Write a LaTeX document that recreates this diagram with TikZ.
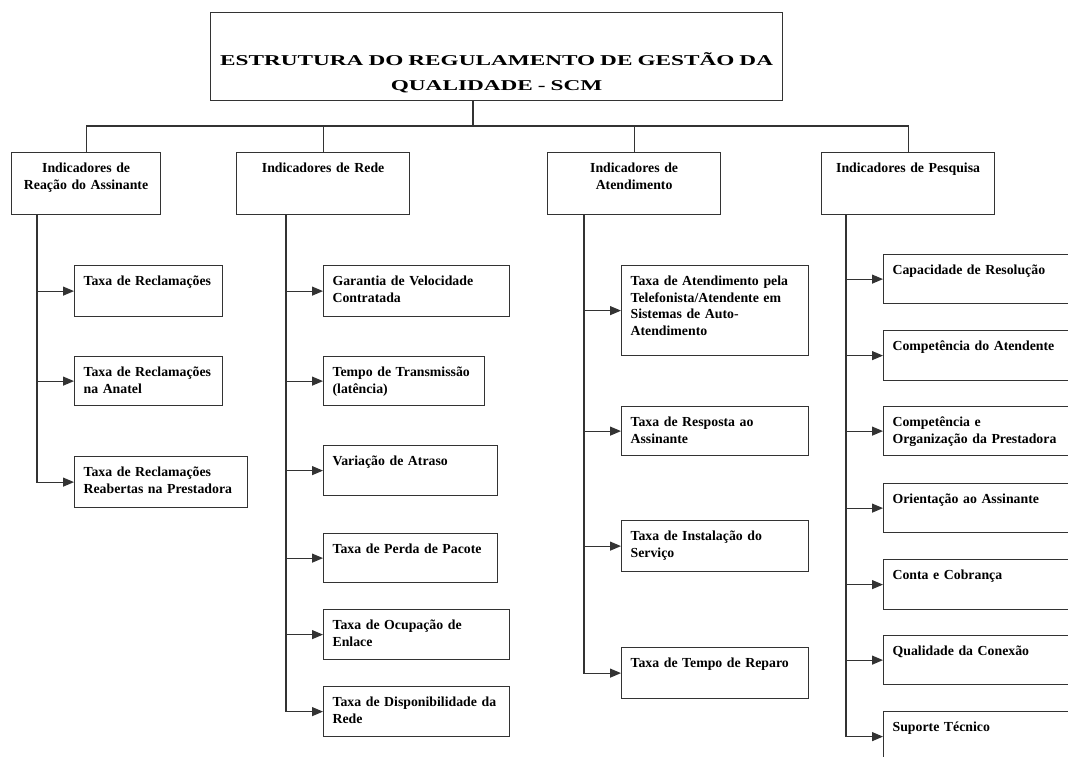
\documentclass[tikz,border=0pt]{standalone}
\usepackage{fontspec}
\setmainfont{Liberation Serif}
\newfontfamily\titlefont[FakeStretch=1.55]{Liberation Serif}
\usetikzlibrary{arrows.meta}

\begin{document}
\begin{tikzpicture}[
  x=1pt, y=-1pt,
  >={Triangle[length=11pt, width=9pt]},
  link/.style={line width=1.2pt, draw=black!80},
  conn/.style={->, line width=1.2pt, draw=black!80},
  titleBox/.style={
    draw=black!80, line width=1.2pt, anchor=north west, inner sep=0pt,
    align=center, text width=572pt, text height=53pt, text depth=35pt,
    font=\titlefont\bfseries\fontsize{15}{25}\selectfont
  },
  catBox/.style 2 args={
    draw=black!80, line width=1.2pt, anchor=north west, inner sep=0pt,
    align=center, text width=#1pt, text height=20pt, text depth=#2pt-20pt,
    font=\bfseries\fontsize{13.8}{16.8}\selectfont
  },
  leafBox/.style 2 args={
    draw=black!80, line width=1.2pt, anchor=north west, inner sep=0pt,
    align=left, text width=#1pt, text height=20pt, text depth=#2pt-20pt,
    execute at begin node={\leftskip=9pt},
    font=\bfseries\fontsize{13.8}{16.5}\selectfont
  }
]
\clip (0,0) rectangle (1068,756);

% --- Titulo ---
\node[titleBox] (title) at (210,12)
  {ESTRUTURA DO REGULAMENTO DE GESTÃO DA\\QUALIDADE - SCM};

% --- Grupos de indicadores ---
\node[catBox={149}{62}] (A) at (11,152)  {Indicadores de\\Reação do Assinante};
\node[catBox={173}{62}] (B) at (236,152) {Indicadores de Rede};
\node[catBox={173}{62}] (C) at (547,152) {Indicadores de\\Atendimento};
\node[catBox={173}{62}] (D) at (821,152) {Indicadores de Pesquisa};

% --- Reacao do assinante ---
\node[leafBox={148}{51}] (A1) at (74,265) {Taxa de Reclamações};
\node[leafBox={148}{49}] (A2) at (74,356) {Taxa de Reclamações\\na Anatel};
\node[leafBox={173}{51}] (A3) at (74,456) {Taxa de Reclamações\\Reabertas na Prestadora};

% --- Rede ---
\node[leafBox={186}{51}] (B1) at (323,265) {Garantia de Velocidade\\Contratada};
\node[leafBox={161}{49}] (B2) at (323,356) {Tempo de Transmissão\\(latência)};
\node[leafBox={174}{50}] (B3) at (323,445) {Variação de Atraso};
\node[leafBox={174}{49}] (B4) at (323,533) {Taxa de Perda de Pacote};
\node[leafBox={186}{50}] (B5) at (323,609) {Taxa de Ocupação de\\Enlace};
\node[leafBox={186}{50}] (B6) at (323,686) {Taxa de Disponibilidade da\\Rede};

% --- Atendimento ---
\node[leafBox={187}{90}] (C1) at (621,265)
  {Taxa de Atendimento pela\\Telefonista/Atendente em\\Sistemas de Auto-\\Atendimento};
\node[leafBox={187}{49}] (C2) at (621,406) {Taxa de Resposta ao\\Assinante};
\node[leafBox={187}{51}] (C3) at (621,520) {Taxa de Instalação do\\Serviço};
\node[leafBox={187}{51}] (C4) at (621,647) {Taxa de Tempo de Reparo};

% --- Pesquisa ---
\node[leafBox={200}{49}] (D1) at (883,254) {Capacidade de Resolução};
\node[leafBox={200}{50}] (D2) at (883,330) {Competência do Atendente};
\node[leafBox={200}{49}] (D3) at (883,406) {Competência e\\Organização da Prestadora};
\node[leafBox={200}{49}] (D4) at (883,483) {Orientação ao Assinante};
\node[leafBox={200}{50}] (D5) at (883,559) {Conta e Cobrança};
\node[leafBox={200}{49}] (D6) at (883,635) {Qualidade da Conexão};
\node[leafBox={200}{50}] (D7) at (883,711) {Suporte Técnico};

% --- Ligacoes do titulo ---
\coordinate (bus) at (473,126);
\draw[link] (title.south -| bus) -- (bus);
\foreach \n in {A,B,C,D}{
  \draw[link] (bus) -| (\n.north);
}

% --- Setas para os indicadores ---
\foreach \k in {1,2,3}{
  \draw[conn] ([xshift=26pt]A.south west) |- (A\k.west);
}
\foreach \k in {1,...,6}{
  \draw[conn] ([xshift=50pt]B.south west) |- (B\k.west);
}
\foreach \k in {1,...,4}{
  \draw[conn] ([xshift=37pt]C.south west) |- (C\k.west);
}
\foreach \k in {1,...,7}{
  \draw[conn] ([xshift=25pt]D.south west) |- (D\k.west);
}

\end{tikzpicture}
\end{document}
